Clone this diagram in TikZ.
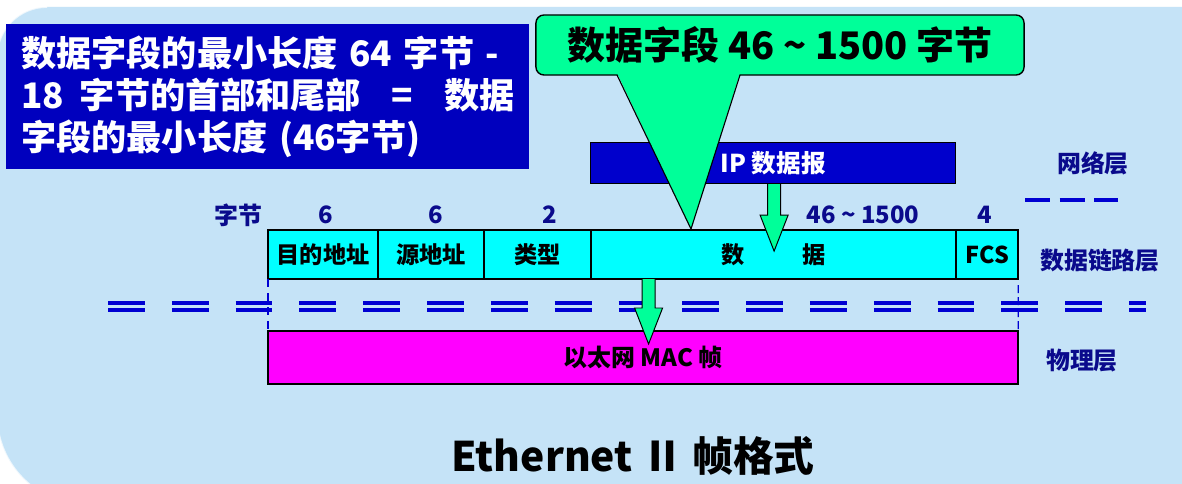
\documentclass[tikz,border=0pt]{standalone}
\usepackage{fontspec}
\setmainfont{Noto Sans CJK SC}
\usetikzlibrary{positioning,calc}
\definecolor{bgblue}{RGB}{197,227,247}
\definecolor{noteblue}{RGB}{0,0,190}
\definecolor{ipblue}{RGB}{0,0,204}
\definecolor{navytext}{RGB}{10,10,140}
\definecolor{callgreen}{RGB}{0,255,153}
\definecolor{dashblue}{RGB}{0,0,210}
\definecolor{fieldcyan}{RGB}{0,255,255}
\definecolor{macpink}{RGB}{255,0,255}

\begin{document}
\begin{tikzpicture}[x=0.025cm,y=-0.025cm,
  field/.style={draw,fill=fieldcyan,line width=1.8pt,inner sep=0pt,outer sep=0pt,
    minimum height=1.225cm,font=\fontsize{16.5}{18}\selectfont\bfseries},
  hdr/.style={text=navytext,font=\fontsize{17}{19}\selectfont\bfseries},
  layerdash/.style={dashblue,line width=2.2pt,dash pattern=on 0.92cm off 0.675cm},
  greenarrow/.style={fill=callgreen,draw=black,line width=0.7pt}]
\clip (0,0) rectangle (1182,484);
\fill[white] (0,0) rectangle (1182,484);
\fill[bgblue] (1200,7) -- (47,7) arc[start angle=90,end angle=180,radius=1.25cm]
  -- (-3,415) arc[start angle=180,end angle=270,radius=2.25cm] -- (1200,505) -- cycle;
\draw[white,opacity=0.7,line width=1.2pt] (47,7) arc[start angle=90,end angle=180,radius=1.25cm]
  -- (-3,415) arc[start angle=180,end angle=270,radius=2.25cm];

% note on the minimum length
\node[fill=noteblue,text=white,anchor=north west,inner xsep=0.375cm,inner ysep=0pt,
  minimum height=3.625cm,text width=12.325cm,align=left,
  font=\fontsize{25}{30}\selectfont\bfseries] (note) at (6,24)
  {\makebox[\linewidth][s]{数据字段的最小长度 64 字节 -}\\
   \makebox[\linewidth][l]{18\hspace{0.45em}字节的首部和尾部\hfill=\hfill 数据}\\
   字段的最小长度 (46字节)};

% frame fields
\node[field,minimum width=2.75cm,anchor=west] (dst) at (268,254.5) {目的地址};
\node[field,minimum width=2.65cm,right=0pt of dst] (src) {源地址};
\node[field,minimum width=2.675cm,right=0pt of src] (ftype) {类型};
\node[field,minimum width=9.125cm,right=0pt of ftype] (data) {数\hspace{2.5em}据};
\node[field,minimum width=1.55cm,right=0pt of data] (fcs) {FCS};
\node[field,fill=macpink,minimum width=18.75cm,minimum height=1.325cm,anchor=north west,
  font=\fontsize{17}{19}\selectfont\bfseries] (mac) at (268,331) {以太网 MAC 帧};
\node[draw,fill=ipblue,text=white,line width=0.8pt,minimum width=9.125cm,minimum height=1.025cm,
  anchor=north west,font=\fontsize{17.5}{19}\selectfont\bfseries] (ip) at (590,142) {IP 数据报};

\foreach \x/\txt in {238/字节, 326/6, 436/6, 550/2, 863/46 \textasciitilde{} 1500, 985/4}
  \node[hdr] (hdr-\x) at (\x,215) {\txt};
\node[hdr] (net) at (1093,163) {网络层};
\node[hdr] (link) at (1100,261) {数据链路层};
\node[hdr] (phys) at (1082,361) {物理层};

% layer boundaries
\draw[layerdash] (108,303) -- (1146,303);
\draw[layerdash] (108,310) -- (1146,310);
\draw[dashblue,line width=2.2pt,dash pattern=on 0.625cm off 0.24cm] (1025,200) -- (1118,200);
\draw[dashblue,line width=2pt,dash pattern=on 0.2cm off 0.15cm] (dst.south west) -- (mac.north west);
\draw[dashblue,line width=1pt,dash pattern=on 0.2cm off 0.1cm] ($(fcs.south east)+(0,6)$) -- (mac.north east);

% callout
\node[draw,fill=callgreen,line width=1pt,rounded corners=0.2cm,minimum width=12.2cm,
  minimum height=1.5cm,font=\fontsize{27}{30}\selectfont\bfseries] (callout) at (780,45)
  {数据字段 46 \textasciitilde{} 1500 字节};
\coordinate (tip) at (691,229);
\fill[callgreen] (617,73) -- (tip) -- (740,73) -- cycle;
\draw[line width=0.8pt] (617,75) -- (tip) -- (740,75);

% block arrows
\coordinate (ipfoot) at ($(ip.south)+(1,0)$);
\coordinate (datafoot) at ($(data.south west)+(57.5,0)$);
\foreach \from/\len in {ipfoot/67, datafoot/65}
  \draw[greenarrow] (\from) ++(-6.5,0) -- ++(0,\len-36) -- ++(-7.5,0) -- ++(14,36)
    -- ++(14,-36) -- ++(-7.5,0) -- ++(0,-\len+36);

\node[font=\fontsize{29}{32}\selectfont\bfseries] (title) at (633,456) {Ethernet Ⅱ 帧格式};
\end{tikzpicture}
\end{document}
